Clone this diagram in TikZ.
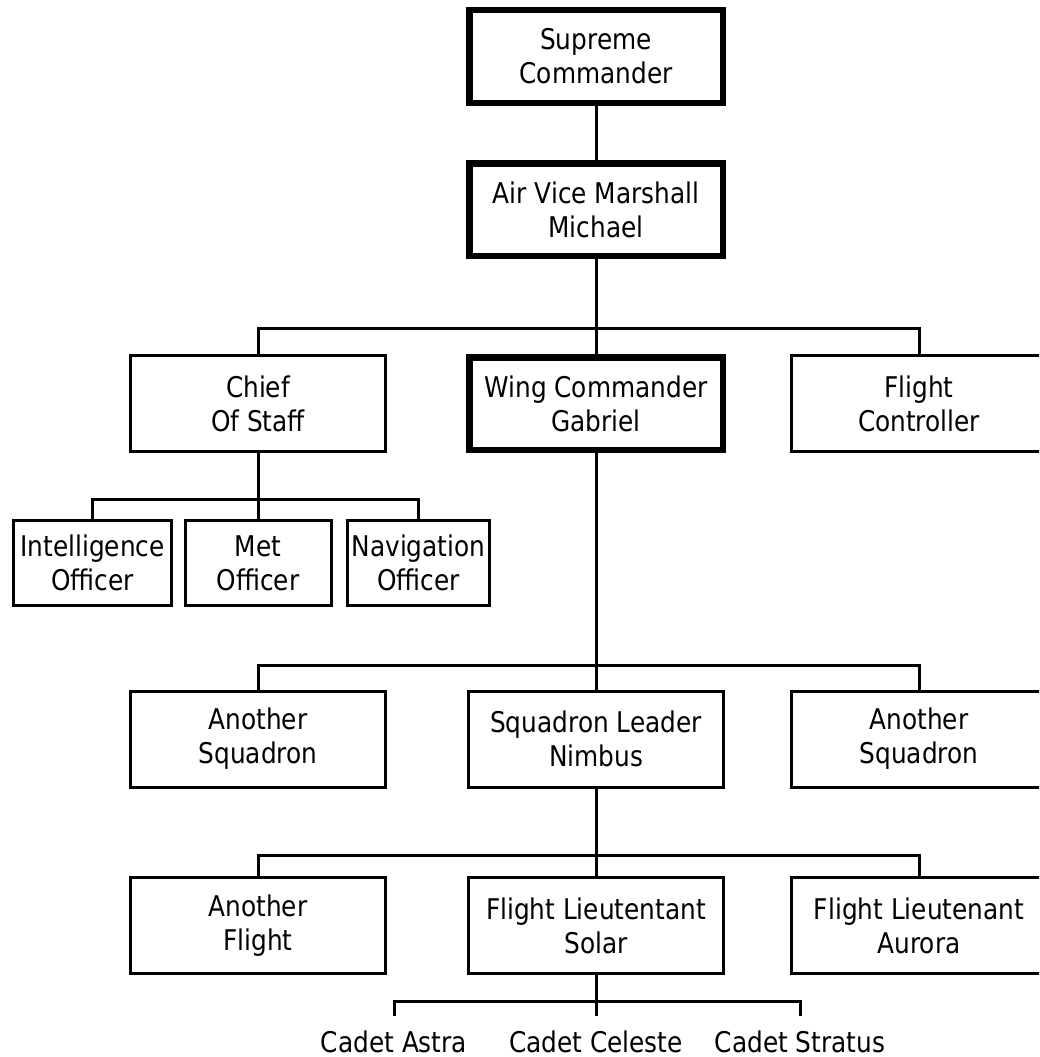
\documentclass[tikz,border=0pt]{standalone}
\usepackage{fontspec}
\setmainfont[FakeStretch=0.87]{DejaVu Sans}
\usetikzlibrary{positioning}

\tikzset{
  box/.style={draw, line width=3pt, minimum width=255pt, minimum height=96pt, align=center, inner sep=0pt},
  bigbox/.style={box, line width=6.5pt, minimum width=253.5pt, minimum height=92.5pt},
  smallbox/.style={box, minimum width=#1, minimum height=85pt},
  cadet/.style={inner xsep=0pt, inner ysep=14pt, anchor=base},
  wire/.style={line width=3pt},
}

\begin{document}
\begin{tikzpicture}[x=1pt, y=-1pt, font=\fontsize{28.5}{34}\selectfont]
\clip (0,0) rectangle (1039,1057);

% top of the chain
\node[bigbox] (sup) at (596,56.5) {Supreme\\Commander};
\node[bigbox] (avm) at (596,209.5) {Air Vice Marshall\\Michael};

% staff row
\node[box] (cos) at (258,403.5) {Chief\\Of Staff};
\node[bigbox] (wing) at (596,403.5) {Wing Commander\\Gabriel};
\node[box] (fc) at (919,403.5) {Flight\\Controller};

% staff officers
\node[smallbox=158pt] (int) at (92.5,563) {Intelligence\\Officer};
\node[smallbox=146pt] (met) at (258,563) {Met\\Officer};
\node[smallbox=142pt] (nav) at (418.5,563) {Navigation\\Officer};

% squadrons
\node[box] (sqa) at (258,739) {Another\\Squadron};
\node[box] (nim) at (596,739) {Squadron Leader\\Nimbus};
\node[box] (sqb) at (919,739) {Another\\Squadron};

% flights
\node[box] (fla) at (258,925.5) {Another\\Flight};
\node[box] (sol) at (596,925.5) {Flight Lieutentant\\Solar};
\node[box] (aur) at (919,925.5) {Flight Lieutenant\\Aurora};

% cadets
\node[cadet] (ast) at (394,1052) {Cadet Astra};
\node[cadet] (cel) at (596,1052) {Cadet Celeste};
\node[cadet] (str) at (800,1052) {Cadet Stratus};

% bus lines
\coordinate (b1) at (596,328);
\coordinate (b2) at (258,499);
\coordinate (b3) at (596,665);
\coordinate (b4) at (596,855);
\coordinate (b5) at (596,1001);

\draw[wire] (sup) -- (avm);
\draw[wire] (avm) -- (wing);
\draw[wire] (cos.north) |- (b1) -| (fc.north);

\draw[wire] (cos.south) -- (b2) -- (met.north);
\draw[wire] (int.north) |- (b2) -| (nav.north);

\draw[wire] (wing.south) -- (b3) -- (nim.north);
\draw[wire] (sqa.north) |- (b3) -| (sqb.north);

\draw[wire] (nim.south) -- (b4) -- (sol.north);
\draw[wire] (fla.north) |- (b4) -| (aur.north);

\draw[wire] (sol.south) -- (b5) -- (cel.north);
\draw[wire] (ast.north) |- (b5) -| (str.north);
\end{tikzpicture}
\end{document}
